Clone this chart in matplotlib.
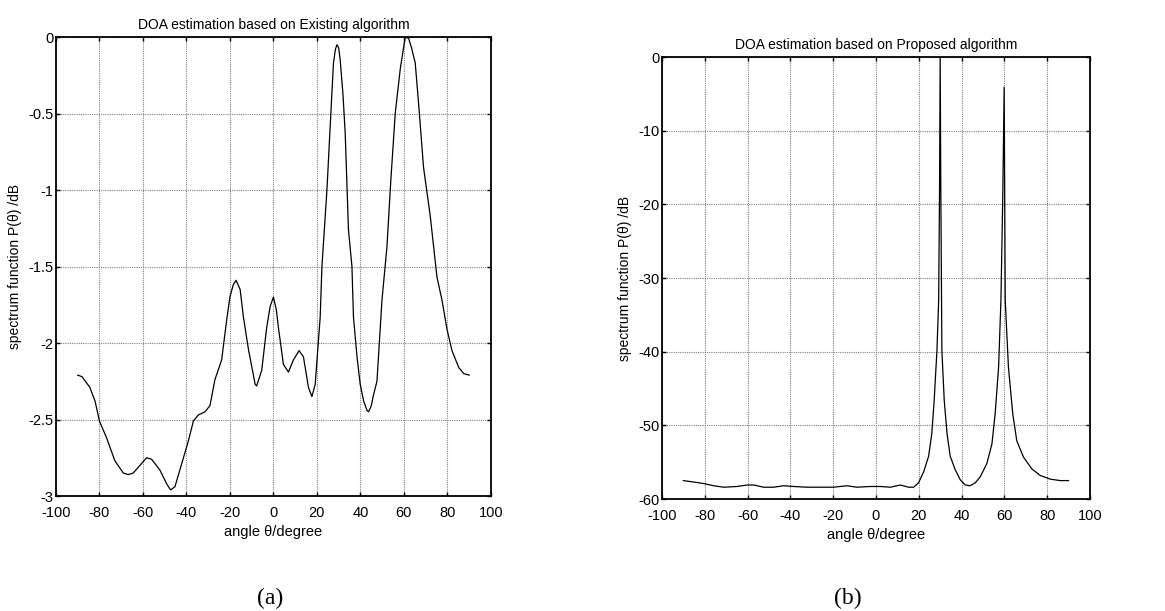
from matplotlib import pyplot as plt
import numpy as np

# (a) existing algorithm
ang_a = [-90, -88, -84.4, -82, -80, -76.7, -72.9, -69, -66.8, -64.5, -61.4, -58.3,
         -56, -52.2, -49.1, -47.3, -45.3, -42.2, -39.1, -36.8, -34.5, -31.5, -29.2,
         -26.9, -23.8, -21.5, -20, -18.5, -17.2, -15.3, -13.8, -11.5, -8.4, -7.7, -5.4, -3.1,
         -1.5, 0, 1.3, 2.3, 4.6, 6.9, 9.2, 11.8, 13.8, 16.1, 17.7, 19.2, 21.5, 22.3, 24.6, 26.4,
         27.6, 28.5, 29.2, 30, 30.7, 32, 33, 34.5, 36.1, 36.8, 38.5, 39.9, 41.5, 43, 43.7, 45,
         46, 47.6, 49.9, 52.2, 54, 56, 58.3, 60.6, 62.2, 63.5, 65.2, 67, 69, 72.1, 75.2, 77.5,
         79.8, 82.1, 85.2, 87.5, 90]
p_a = [-2.21, -2.22, -2.29, -2.38, -2.51, -2.62, -2.77, -2.85, -2.86, -2.85, -2.80, -2.75,
       -2.76, -2.83, -2.92, -2.96, -2.94, -2.79, -2.64, -2.51, -2.47, -2.45, -2.41,
       -2.24, -2.11, -1.85, -1.70, -1.62, -1.59, -1.65, -1.83, -2.04, -2.27, -2.28, -2.18, -1.90,
       -1.76, -1.70, -1.78, -1.90, -2.14, -2.19, -2.11, -2.05, -2.09, -2.29, -2.35, -2.27, -1.83,
       -1.50, -1.0, -0.5, -0.17, -0.08, -0.05, -0.07, -0.15, -0.38, -0.63, -1.26, -1.50, -1.83,
       -2.10, -2.27, -2.38, -2.44, -2.45, -2.41, -2.34, -2.25, -1.72, -1.37, -0.93, -0.50, -0.21,
       0.0, -0.01, -0.07, -0.17, -0.48, -0.85, -1.17, -1.57, -1.72, -1.91, -2.05, -2.16, -2.20,
       -2.21]

# (b) proposed algorithm
ang_b = [-90, -85.1, -80.5, -75.8, -71.1, -64.9, -60.2, -57.1, -52.5, -47.8, -43.1,
         -38.4, -32.2, -26, -19.8, -13.5, -8.9, -2.6, 2, 6.7, 11.4, 15.3, 17.6, 19.9,
         22.3, 24.6, 26.1, 27.2, 28.5, 29.3, 29.7, 30, 30.3, 30.8, 31.9, 33.2, 34.7, 37,
         39.4, 41.7, 44, 46.4, 48.7, 51.8, 54.2, 55.7, 57.3, 58.4, 59.3, 59.9, 60.4,
         61.9, 63.9, 65.8, 68.9, 72.8, 76.7, 81.4, 86.1, 90]
p_b = [-57.5, -57.7, -57.9, -58.2, -58.4, -58.3, -58.1, -58.1, -58.4, -58.4, -58.2,
       -58.3, -58.4, -58.4, -58.4, -58.2, -58.4, -58.3, -58.3, -58.4, -58.1, -58.4,
       -58.4, -57.8, -56.3, -54.2, -51.1, -46.6, -39.8, -33, -18, 0, -18, -39.8, -46.6,
       -51.1, -54.2, -56, -57.4, -58.1, -58.2, -57.8, -57.0, -55.2, -52.5, -48.4, -42.1,
       -33, -18, -4.1, -33, -42.1, -48.4, -52.1, -54.3, -55.9, -56.8, -57.3, -57.5, -57.5]

xticks = np.arange(-100, 101, 20)
plt.rcParams['font.family'] = ['Liberation Sans', 'DejaVu Sans']
plt.rcParams['font.size'] = 10
plt.rcParams['axes.unicode_minus'] = False

fig = plt.figure(figsize=(11.65, 6.11), dpi=100)
ax1 = fig.add_axes([0.048, 0.1882, 0.3734, 0.7512])
ax2 = fig.add_axes([0.5682, 0.1833, 0.3674, 0.7234])


def style(ax, yticks, title, tag, tagx):
    ax.set_xlim(-100, 100)
    ax.set_ylim(yticks[0], yticks[-1])
    ax.set_xticks(xticks)
    ax.set_yticks(yticks)
    ax.grid(True, color='#808080', linestyle=(0, (1, 1)), linewidth=0.8)
    ax.tick_params(direction='in', top=True, right=True, length=3, width=1, labelsize=10.5)
    ax.tick_params(axis='x', pad=7)
    ax.tick_params(axis='y', pad=2)
    for s in ax.spines.values():
        s.set_linewidth(1.3)
    ax.set_title(title, fontsize=10, pad=6)
    ax.set_xlabel('angle θ/degree', fontsize=10.5, labelpad=4)
    ax.set_ylabel('spectrum function P(θ) /dB', fontsize=10, labelpad=4)
    fig.text(tagx, 0.012, tag, ha='center', fontsize=17, family='Liberation Serif')


ax1.plot(ang_a, p_a, color='black', linewidth=0.9)
style(ax1, np.arange(-3, 0.01, 0.5), 'DOA estimation based on Existing algorithm', '(a)', 0.232)
ax1.set_yticklabels(['-3', '-2.5', '-2', '-1.5', '-1', '-0.5', '0'])

ax2.plot(ang_b, p_b, color='black', linewidth=0.9)
style(ax2, np.arange(-60, 1, 10), 'DOA estimation based on Proposed algorithm', '(b)', 0.728)

fig.savefig('out.png', dpi=100)
